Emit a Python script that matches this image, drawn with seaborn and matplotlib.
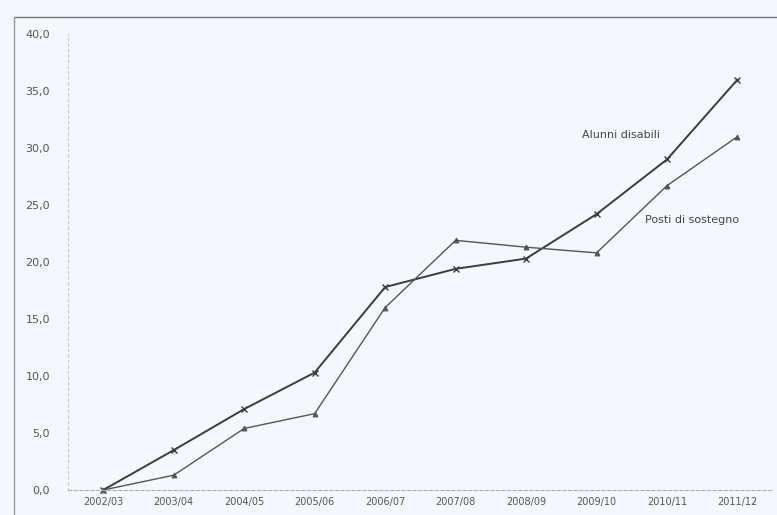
import numpy as np
import pandas as pd
import matplotlib.pyplot as plt
import seaborn as sns
from matplotlib.lines import Line2D

# data
anni = ["2002/03", "2003/04", "2004/05", "2005/06", "2006/07",
        "2007/08", "2008/09", "2009/10", "2010/11", "2011/12"]
alunni_disabili = [0.0, 3.5, 7.1, 10.3, 17.8, 19.4, 20.3, 24.2, 29.0, 36.0]
posti_sostegno = [0.0, 1.3, 5.4, 6.7, 16.0, 21.9, 21.3, 20.8, 26.7, 31.0]
y_ticks = [0, 5, 10, 15, 20, 25, 30, 35, 40]

df = pd.DataFrame({"anno": anni, "alunni": alunni_disabili, "posti": posti_sostegno})

sns.set_style("white")
plt.rcParams["font.family"] = ["DejaVu Sans"]
bg = "#f4f7fc"

fig = plt.figure(figsize=(7.77, 5.15), dpi=100, facecolor=bg)
ax = fig.add_axes([0.0875, 0.0485, 0.907, 0.8855])
ax.set_facecolor(bg)

sns.lineplot(data=df, x="anno", y="alunni", ax=ax, color="#3c3c3c", linewidth=1.4,
             marker="x", markersize=5, markeredgecolor="#3c3c3c", markeredgewidth=1, clip_on=False)
sns.lineplot(data=df, x="anno", y="posti", ax=ax, color="#555555", linewidth=1.0,
             marker="^", markersize=3.5, markeredgecolor="#555555", clip_on=False)

ax.set_xlim(-0.5, len(anni) - 0.5)
ax.set_ylim(0, 40)
ax.set_yticks(y_ticks)
ax.set_yticklabels([f"{v:.1f}".replace(".", ",") for v in y_ticks], fontsize=8, color="#555555")
ax.set_xticks(range(len(anni)))
ax.set_xticklabels(anni, fontsize=7, color="#555555")
ax.tick_params(axis="y", length=2, pad=11, color="#bbbbbb")
ax.tick_params(axis="x", length=0, pad=5)
ax.set_xlabel("")
ax.set_ylabel("")

for s in ["top", "right"]:
    ax.spines[s].set_visible(False)
ax.spines["left"].set_color("#c8c8c8")
ax.spines["left"].set_linestyle((0, (2, 3)))
ax.spines["bottom"].set_color("#b0b0b0")
ax.spines["bottom"].set_linestyle((0, (3, 2)))

# labels next to the lines
ax.text(6.79, 31.1, "Alunni disabili", fontsize=8, color="#444444", va="center")
ax.text(7.69, 23.7, "Posti di sostegno", fontsize=8, color="#444444", va="center")

# frame of the scanned page
fig.add_artist(Line2D([14 / 777, 1], [1 - 17 / 515, 1 - 17 / 515], color="#777777", linewidth=1))
fig.add_artist(Line2D([14 / 777, 14 / 777], [0, 1 - 17 / 515], color="#999999", linewidth=1))

fig.savefig("out.png", dpi=100, facecolor=bg)
